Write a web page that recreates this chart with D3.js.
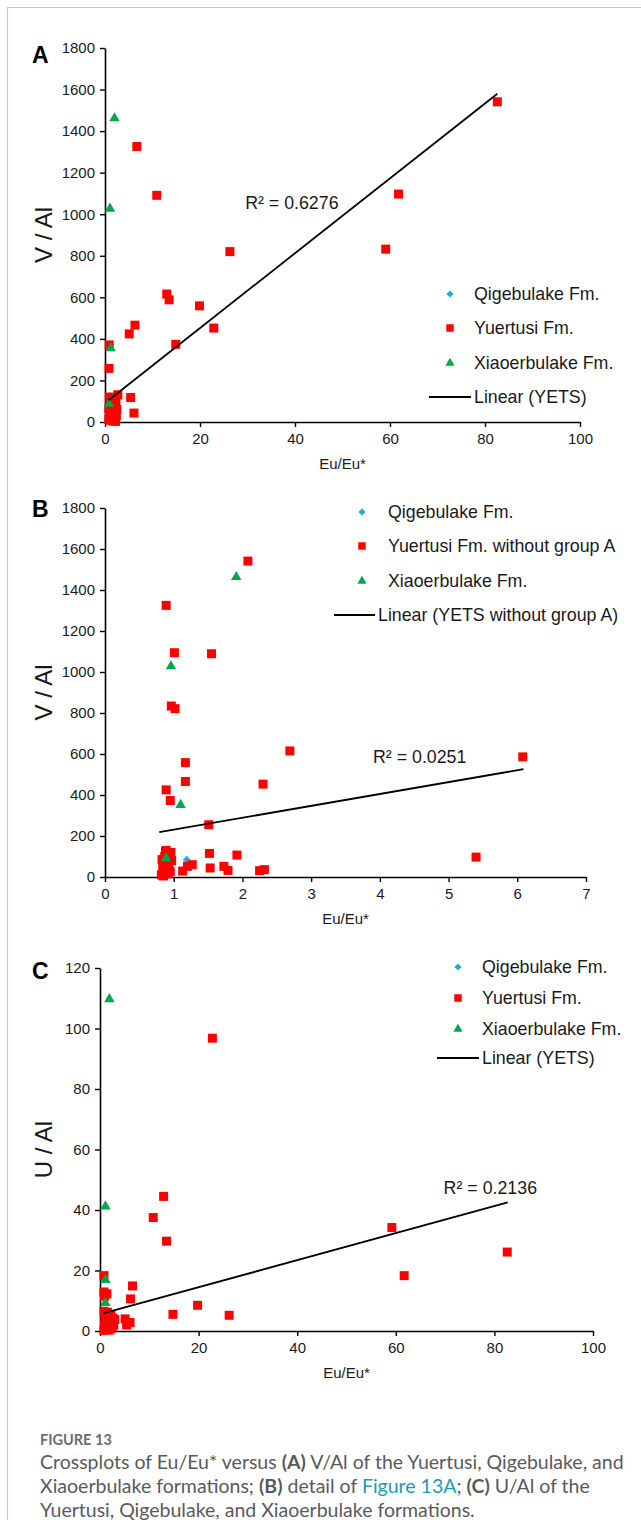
<!DOCTYPE html>
<html>
<head>
<meta charset="utf-8">
<script src="https://cdn.jsdelivr.net/npm/d3@7"></script>
<style>
    body { margin: 0; background: #fff; }
    svg text { font-family: "Liberation Sans", Arial, sans-serif; }
    .caption text { font-family: "Lato", "Noto Sans", sans-serif; }
</style>
</head>
<body>
<div id="chart"></div>
<script>
// ---- data ----
const euTicks100 = [0, 20, 40, 60, 80, 100];
const euTicks7 = [0, 1, 2, 3, 4, 5, 6, 7];
const vTicks = [0, 200, 400, 600, 800, 1000, 1200, 1400, 1600, 1800];
const uTicks = [0, 20, 40, 60, 80, 100, 120];

const legendA = ["Qigebulake Fm.", "Yuertusi Fm.", "Xiaoerbulake Fm.", "Linear (YETS)"];
const legendB = ["Qigebulake Fm.", "Yuertusi Fm. without group A", "Xiaoerbulake Fm.", "Linear (YETS without group A)"];
const legendC = ["Qigebulake Fm.", "Yuertusi Fm.", "Xiaoerbulake Fm.", "Linear (YETS)"];

// panel A: Eu/Eu* vs V/Al
const qigeA = [[1.0, 125]];
const yuerA = [
    [82.6, 1541], [61.8, 1097], [59.1, 832], [6.7, 1326], [10.9, 1091], [26.3, 820],
    [13.0, 616], [13.5, 588], [19.9, 559], [22.9, 452], [6.3, 466], [5.1, 424],
    [14.9, 374], [0.9, 371], [0.85, 258], [5.4, 118], [2.7, 131], [6.1, 43],
    [0.9, 120], [1.3, 110], [1.8, 100], [2.3, 95], [1.1, 85], [1.6, 78], [2.1, 70],
    [2.5, 60], [0.8, 65], [1.2, 50], [1.9, 45], [2.4, 30], [0.9, 35], [1.5, 25],
    [2.0, 15], [1.1, 8], [0.8, 12], [1.7, 5], [2.2, 3], [1.4, 60]
];
const xiaoA = [[2.0, 1462], [1.05, 1027], [1.2, 355], [0.85, 88]];
const trendA = [[0.75, 105], [82.6, 1580]];
const r2A = "R² = 0.6276";

// panel B: detail, Yuertusi without group A
const qigeB = [[1.19, 84]];
const yuerB = [
    [0.89, 1325], [2.08, 1541], [1.01, 1094], [1.55, 1089], [0.965, 834], [1.02, 821],
    [2.69, 615], [6.08, 586], [1.17, 558], [1.17, 466], [2.30, 453], [0.89, 425],
    [0.95, 373], [1.51, 255], [0.89, 130], [0.96, 120], [1.52, 115], [1.92, 107],
    [5.4, 97], [1.27, 60], [1.2, 52], [1.53, 44], [1.73, 52], [1.79, 32], [1.13, 29],
    [2.25, 31], [2.32, 36],
    [0.82, 10], [0.85, 22], [0.88, 35], [0.84, 50], [0.86, 70], [0.83, 85], [0.87, 100],
    [0.92, 110], [0.9, 60], [0.93, 45], [0.95, 25], [0.9, 15], [0.97, 80], [0.94, 95],
    [0.88, 125], [0.85, 5]
];
const xiaoB = [[1.91, 1463], [0.96, 1028], [1.10, 352], [0.89, 92]];
const trendB = [[0.79, 219], [6.09, 526]];
const r2B = "R² = 0.0251";

// panel C: Eu/Eu* vs U/Al
const qigeC = [[1.2, 4]];
const yuerC = [
    [22.8, 96.8], [12.9, 44.5], [10.8, 37.5], [13.5, 29.7], [59.2, 34.2], [82.6, 26.1],
    [61.7, 18.3], [6.6, 14.9], [6.2, 10.6], [19.8, 8.5], [14.8, 5.5], [26.2, 5.2],
    [5.1, 4.0], [6.1, 2.8], [5.4, 2.0], [0.8, 18.3], [1.4, 12.3], [0.8, 12.9], [0.9, 11.5],
    [0.8, 6.5], [1.5, 6.2], [2.2, 5.5], [1.0, 4.5], [1.8, 4.0], [2.6, 4.2], [3.0, 3.8],
    [1.2, 3.0], [2.0, 2.5], [2.8, 2.0], [0.9, 1.8], [1.6, 1.2], [2.3, 0.8], [1.1, 0.5],
    [1.9, 0.3], [0.8, 0.2], [2.5, 1.5]
];
const xiaoC = [[1.9, 109.7], [1.1, 41.2], [1.1, 16.9], [1.1, 9.3]];
const trendC = [[0.6, 5.8], [82.7, 42.5]];
const r2C = "R² = 0.2136";

// ---- drawing ----
const W = 641, H = 1520;
const RED = "#ff0000", GREEN = "#00a650", BLUE = "#1ea7e1";
const FONT = "'Liberation Sans', Arial, sans-serif";

const svg = d3.select("#chart").append("svg")
    .attr("width", W)
    .attr("height", H);

// page frame (left and top rule)
svg.append("path")
    .attr("d", `M7.5,${H} V7.5 H${W}`)
    .attr("fill", "none")
    .attr("stroke", "#c9c9c9")
    .attr("stroke-width", 1.2);

const symDiamond = d3.symbol().type(d3.symbolDiamond2);
const symSquare = d3.symbol().type(d3.symbolSquare);
const symTriangle = d3.symbol().type(d3.symbolTriangle);

function drawPanel(p) {
    const x = d3.scaleLinear().domain(p.xDomain).range(p.xRange);
    const y = d3.scaleLinear().domain(p.yDomain).range(p.yRange);
    const g = svg.append("g");

    // axes
    const yAxis = g.append("g")
        .attr("transform", `translate(${p.xRange[0]},0)`)
        .call(d3.axisLeft(y).tickValues(p.yTicks).tickFormat(d3.format("d"))
            .tickSize(5).tickSizeOuter(0).tickPadding(5));
    const xAxis = g.append("g")
        .attr("transform", `translate(0,${p.yRange[0]})`)
        .call(d3.axisBottom(x).tickValues(p.xTicks).tickFormat(d3.format("d"))
            .tickSize(5).tickSizeOuter(0).tickPadding(6));
    [xAxis, yAxis].forEach(a => {
        a.attr("font-family", FONT).attr("font-size", 15);
        a.select(".domain").attr("stroke", "#000").attr("stroke-width", 1.6);
        a.selectAll(".tick line").attr("stroke", "#000").attr("stroke-width", 1.4);
        a.selectAll(".tick text").attr("fill", "#1a1a1a");
    });

    // points: Qigebulake, Yuertusi, Xiaoerbulake (Excel series order)
    g.append("g").selectAll("path")
        .data(p.qige).enter().append("path")
        .attr("d", symDiamond.size(40)())
        .attr("transform", d => `translate(${x(d[0])},${y(d[1])})`)
        .attr("fill", BLUE);
    g.append("g").selectAll("path")
        .data(p.yuer).enter().append("path")
        .attr("d", symSquare.size(81)())
        .attr("transform", d => `translate(${x(d[0])},${y(d[1])})`)
        .attr("fill", RED);
    g.append("g").selectAll("path")
        .data(p.xiao).enter().append("path")
        .attr("d", symTriangle.size(48)())
        .attr("transform", d => `translate(${x(d[0])},${y(d[1])})`)
        .attr("fill", GREEN);

    // trend line
    g.append("path")
        .attr("d", d3.line().x(d => x(d[0])).y(d => y(d[1]))(p.trend))
        .attr("fill", "none")
        .attr("stroke", "#000")
        .attr("stroke-width", 1.8);

    g.append("text")
        .attr("x", x(p.r2Pos[0]))
        .attr("y", y(p.r2Pos[1]))
        .attr("dominant-baseline", "central")
        .style("font-size", "17.8px")
        .attr("fill", "#1a1a1a")
        .text(p.r2);

    // legend
    const lg = g.append("g");
    const syms = [symDiamond.size(32)(), symSquare.size(56)(), symTriangle.size(36)()];
    const cols = [BLUE, RED, GREEN];
    p.legend.forEach((name, i) => {
        const ly = p.legendY[i];
        if (i < 3) {
            lg.append("path")
                .attr("d", syms[i])
                .attr("transform", `translate(${p.legendMarkX},${ly})`)
                .attr("fill", cols[i]);
        } else {
            lg.append("line")
                .attr("x1", p.legendLine[0]).attr("x2", p.legendLine[1])
                .attr("y1", ly).attr("y2", ly)
                .attr("stroke", "#000").attr("stroke-width", 2);
        }
        lg.append("text")
            .attr("x", i < 3 ? p.legendTextX : p.legendLine[1] + 3)
            .attr("y", ly)
            .attr("dominant-baseline", "central")
            .style("font-size", "17.8px")
            .attr("fill", "#1a1a1a")
            .text(name);
    });

    // titles
    g.append("text")
        .attr("x", (p.xRange[0] + p.xRange[1]) / 2)
        .attr("y", p.yRange[0] + 41)
        .attr("text-anchor", "middle")
        .attr("dominant-baseline", "central")
        .style("font-size", "15px")
        .attr("fill", "#1a1a1a")
        .text("Eu/Eu*");
    g.append("text")
        .attr("transform", `translate(43,${(p.yRange[0] + p.yRange[1]) / 2}) rotate(-90)`)
        .attr("text-anchor", "middle")
        .attr("dominant-baseline", "central")
        .style("font-size", "24px")
        .attr("fill", "#1a1a1a")
        .text(p.yTitle);
    g.append("text")
        .attr("x", 32)
        .attr("y", p.letterY)
        .style("font-size", "23px")
        .style("font-weight", "bold")
        .attr("fill", "#000")
        .text(p.letter);
}

drawPanel({
    letter: "A", letterY: 63,
    xDomain: [0, 100], xRange: [105, 580], xTicks: euTicks100,
    yDomain: [0, 1800], yRange: [422, 48], yTicks: vTicks,
    yTitle: "V / Al",
    qige: qigeA, yuer: yuerA, xiao: xiaoA, trend: trendA,
    r2: r2A, r2Pos: [29.5, 1054],
    legend: legendA, legendY: [294, 328, 363, 397],
    legendMarkX: 450, legendTextX: 474, legendLine: [429, 471]
});

drawPanel({
    letter: "B", letterY: 517,
    xDomain: [0, 7], xRange: [105, 586], xTicks: euTicks7,
    yDomain: [0, 1800], yRange: [877, 508], yTicks: vTicks,
    yTitle: "V / Al",
    qige: qigeB, yuer: yuerB, xiao: xiaoB, trend: trendB,
    r2: r2B, r2Pos: [3.9, 585],
    legend: legendB, legendY: [512, 546, 581, 615],
    legendMarkX: 362, legendTextX: 388, legendLine: [334, 375]
});

drawPanel({
    letter: "C", letterY: 979,
    xDomain: [0, 100], xRange: [100, 593], xTicks: euTicks100,
    yDomain: [0, 120], yRange: [1331, 968], yTicks: uTicks,
    yTitle: "U / Al",
    qige: qigeC, yuer: yuerC, xiao: xiaoC, trend: trendC,
    r2: r2C, r2Pos: [69.7, 47.4],
    legend: legendC, legendY: [967, 998, 1029, 1058],
    legendMarkX: 458, legendTextX: 482, legendLine: [437, 479]
});

// caption
const cap = svg.append("g").attr("class", "caption");
cap.append("text")
    .attr("x", 40).attr("y", 1445)
    .style("font-size", "14.5px")
    .style("font-weight", "bold")
    .attr("fill", "#6d6d6d")
    .text("FIGURE 13");

const capLines = [
    [["Crossplots of Eu/Eu* versus ", 0], ["(A)", 1], [" V/Al of the Yuertusi, Qigebulake, and", 0]],
    [["Xiaoerbulake formations; ", 0], ["(B)", 1], [" detail of ", 0], ["Figure 13A", 2], ["; ", 0], ["(C)", 1], [" U/Al of the", 0]],
    [["Yuertusi, Qigebulake, and Xiaoerbulake formations.", 0]]
];
capLines.forEach((parts, i) => {
    const t = cap.append("text")
        .attr("x", 40).attr("y", 1469 + i * 24)
        .style("font-size", "19.5px")
        .attr("fill", "#5a5a5a");
    parts.forEach(([s, k]) => {
        t.append("tspan")
            .style("font-weight", k === 1 ? "bold" : "normal")
            .attr("fill", k === 2 ? "#1b9bb5" : "#5a5a5a")
            .text(s);
    });
});
</script>
</body>
</html>
